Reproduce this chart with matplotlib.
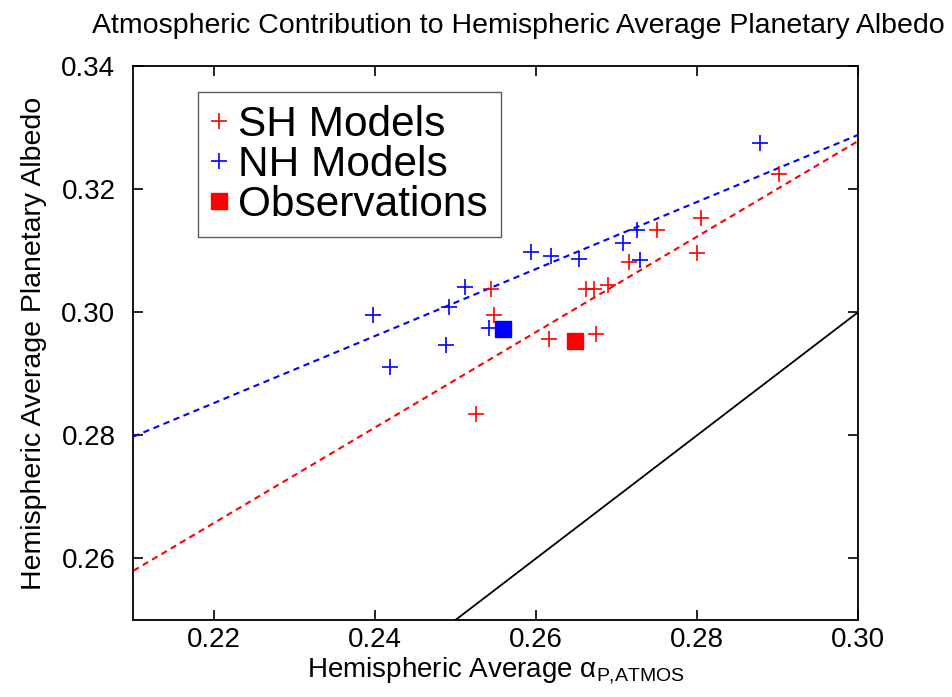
import numpy as np
import matplotlib
matplotlib.use("Agg")
import matplotlib.pyplot as plt
from matplotlib.lines import Line2D

plt.rcParams.update({"font.family": ["Liberation Sans", "DejaVu Sans"],
                     "mathtext.fontset": "custom", "mathtext.rm": "Liberation Sans",
                     "mathtext.it": "Liberation Sans", "mathtext.sf": "Liberation Sans"})

# model points
sh_x = [0.2544, 0.2548, 0.2525, 0.2616, 0.2675, 0.2662, 0.2672, 0.2689,
        0.2715, 0.2750, 0.2805, 0.2800, 0.2902]
sh_y = [0.3037, 0.2995, 0.2835, 0.2957, 0.2964, 0.3038, 0.3037, 0.3044,
        0.3082, 0.3134, 0.3153, 0.3096, 0.3224]
nh_x = [0.2398, 0.2419, 0.2512, 0.2492, 0.2488, 0.2542, 0.2594, 0.2619,
        0.2653, 0.2708, 0.2726, 0.2729, 0.2878]
nh_y = [0.2995, 0.2911, 0.3041, 0.3008, 0.2946, 0.2974, 0.3098, 0.3092,
        0.3087, 0.3112, 0.3133, 0.3085, 0.3275]
# observations
obs_sh = (0.2649, 0.2954)
obs_nh = (0.2559, 0.2972)
# fit lines, values at x ends
fit_x = [0.21, 0.30]
fit_sh = [0.2580, 0.3278]
fit_nh = [0.2798, 0.3288]
one_to_one = [0.25, 0.30]

fig = plt.figure(figsize=(9.52, 6.97), dpi=100)
ax = fig.add_axes([0.1402, 0.1105, 0.7611, 0.7948])

ax.plot(fit_x, fit_nh, "--", color="#0000ff", lw=1.5, dashes=(3, 2.2))
ax.plot(fit_x, fit_sh, "--", color="#ff0000", lw=1.5, dashes=(3, 2.2))
ax.plot(one_to_one, one_to_one, "-", color="black", lw=1.3)
ax.plot(nh_x, nh_y, "+", color="#0000ff", ms=12, mew=1.2, ls="none")
ax.plot(sh_x, sh_y, "+", color="#ff0000", ms=12, mew=1.2, ls="none")
ax.plot(*obs_nh, "s", color="#0000ff", ms=11.5)
ax.plot(*obs_sh, "s", color="#ff0000", ms=11.5)

ax.set_xlim(0.21, 0.30)
ax.set_ylim(0.25, 0.34)
ax.set_xticks([0.22, 0.24, 0.26, 0.28, 0.30])
ax.set_yticks([0.26, 0.28, 0.30, 0.32, 0.34])
ax.xaxis.set_major_formatter(matplotlib.ticker.FormatStrFormatter("%.2f"))
ax.yaxis.set_major_formatter(matplotlib.ticker.FormatStrFormatter("%.2f"))
ax.tick_params(direction="in", top=True, right=True, length=7, width=1.2,
               labelsize=20)
ax.tick_params(axis="x", pad=5)
ax.tick_params(axis="y", pad=13)
for s in ax.spines.values():
    s.set_linewidth(1.3)

ax.set_xlabel(r"Hemispheric Average $\alpha_{\mathrm{P{,}ATMOS}}$", fontsize=20, labelpad=2)
ax.set_ylabel("Hemispheric Average Planetary Albedo", fontsize=20.5, labelpad=10)
fig.text(0.545, 0.9527, "Atmospheric Contribution to Hemispheric Average Planetary Albedo",
         ha="center", va="baseline", fontsize=20.5)

handles = [Line2D([], [], marker="+", color="#ff0000", ls="none", ms=11.5, mew=1.2),
           Line2D([], [], marker="+", color="#0000ff", ls="none", ms=11.5, mew=1.2),
           Line2D([], [], marker="s", color="#ff0000", ls="none", ms=11)]
leg = ax.legend(handles, ["SH Models", "NH Models", "Observations"],
                loc="upper left", bbox_to_anchor=(0.089, 0.953), fontsize=30.5,
                frameon=True, fancybox=False, edgecolor="#333333",
                handlelength=0.4, handletextpad=0.25, borderpad=0.3,
                labelspacing=0.0, borderaxespad=0)
leg.get_frame().set_linewidth(1.0)

fig.savefig("out.png", dpi=100)
